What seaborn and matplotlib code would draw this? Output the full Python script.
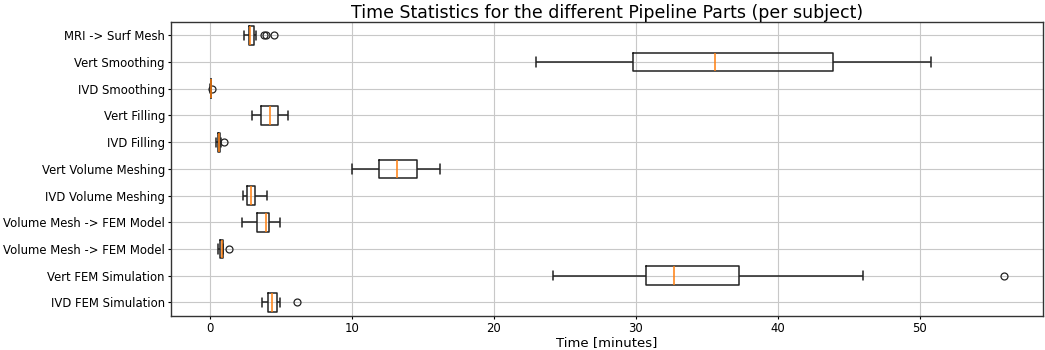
import pandas as pd
import numpy as np
import matplotlib.pyplot as plt
import seaborn as sns

sns.set_theme(style="ticks")
plt.rcParams['font.family'] = ['DejaVu Sans']
plt.rcParams.update({'text.color': 'black', 'axes.labelcolor': 'black',
                     'xtick.color': 'black', 'ytick.color': 'black'})

# per-subject times in minutes (top to bottom)
mri_surf = [2.39, 2.55, 2.65, 2.72, 2.77, 2.80, 2.83, 2.85, 2.87, 2.93, 3.00, 3.08, 3.15, 3.29, 3.80, 3.97, 4.51]
vert_smooth = [23.0, 26.4, 28.9, 29.8, 32.1, 34.6, 35.6, 38.2, 41.5, 43.9, 46.3, 48.7, 50.8]
ivd_smooth = [0.06, 0.07, 0.08, 0.09, 0.09, 0.10, 0.10, 0.10, 0.11, 0.11, 0.12, 0.13, 0.16]
vert_fill = [2.96, 3.25, 3.50, 3.64, 3.90, 4.10, 4.27, 4.45, 4.60, 4.79, 5.05, 5.30, 5.49]
ivd_fill = [0.47, 0.52, 0.55, 0.58, 0.62, 0.64, 0.66, 0.68, 0.70, 0.72, 0.76, 0.82, 0.99]
vert_volmesh = [10.0, 10.9, 11.5, 11.9, 12.4, 12.9, 13.2, 13.6, 14.1, 14.6, 15.1, 15.7, 16.2]
ivd_volmesh = [2.35, 2.48, 2.58, 2.64, 2.76, 2.86, 2.94, 3.02, 3.12, 3.22, 3.45, 3.80, 4.05]
vert_fem_model = [2.30, 2.80, 3.10, 3.31, 3.60, 3.80, 3.94, 4.02, 4.10, 4.18, 4.45, 4.70, 4.93]
ivd_fem_model = [0.56, 0.62, 0.68, 0.72, 0.78, 0.83, 0.87, 0.89, 0.90, 0.92, 0.95, 0.98, 1.34]
vert_fem_sim = [24.2, 27.5, 29.6, 30.7, 31.4, 32.1, 32.7, 34.0, 35.8, 37.3, 40.5, 46.0, 55.9]
ivd_fem_sim = [3.69, 3.85, 4.00, 4.11, 4.22, 4.32, 4.39, 4.50, 4.62, 4.75, 4.85, 4.98, 6.15]

labels = ['MRI -> Surf Mesh', 'Vert Smoothing', 'IVD Smoothing', 'Vert Filling', 'IVD Filling',
          'Vert Volume Meshing', 'IVD Volume Meshing', 'Volume Mesh -> FEM Model',
          'Volume Mesh -> FEM Model', 'Vert FEM Simulation', 'IVD FEM Simulation']
series = [mri_surf, vert_smooth, ivd_smooth, vert_fill, ivd_fill, vert_volmesh, ivd_volmesh,
          vert_fem_model, ivd_fem_model, vert_fem_sim, ivd_fem_sim]

# unique keys because two labels are identical
keys = [f"{i:02d}" for i in range(len(labels))]
df = pd.concat([pd.DataFrame({'part': k, 'time': v}) for k, v in zip(keys, series)], ignore_index=True)

fig, ax = plt.subplots(figsize=(10.45, 3.5), dpi=100)
sns.boxplot(data=df, x='time', y='part', order=keys, orient='h', ax=ax,
            fill=False, color='#222222', width=0.7, linewidth=1.1, capwidths=0.35,
            medianprops={'color': '#ff7f0e', 'linewidth': 1.1},
            flierprops={'marker': 'o', 'markersize': 5, 'markerfacecolor': 'none',
                        'markeredgecolor': '#222222', 'markeredgewidth': 0.9})

ax.set_yticks(range(len(labels)))
ax.set_yticklabels(labels, fontsize=8.4)
ax.tick_params(axis='both', length=2.2, width=0.8, pad=2)
ax.tick_params(axis='x', labelsize=8.4)
ax.set_ylabel('')
ax.set_xlabel('Time [minutes]', fontsize=9.5, labelpad=1)
ax.set_title('Time Statistics for the different Pipeline Parts (per subject)', fontsize=12.5, pad=3)
ax.grid(True, color='#c8c8c8', linewidth=0.8)
ax.set_axisbelow(True)
for s in ax.spines.values():
    s.set_color('#333333')
    s.set_linewidth(1.0)

plt.subplots_adjust(left=0.1634, right=0.9984, top=0.937, bottom=0.098)
plt.savefig('out.png', dpi=100)
